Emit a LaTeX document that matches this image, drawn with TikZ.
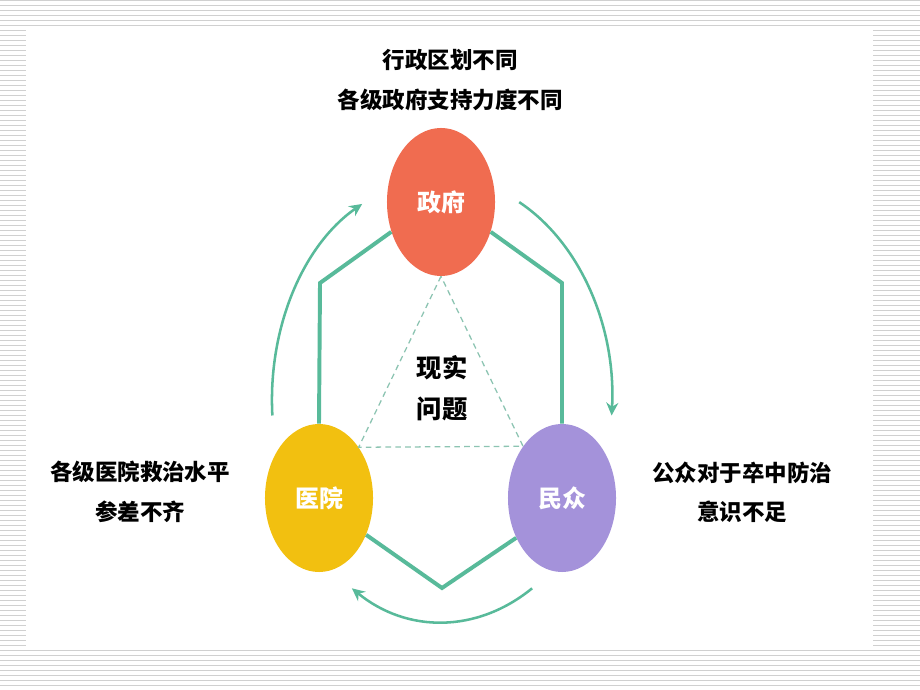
\documentclass[tikz,border=0pt]{standalone}
\usepackage{fontspec}
\setmainfont{Noto Sans CJK SC}
\usetikzlibrary{shapes.geometric,arrows.meta,calc}
\definecolor{tealline}{RGB}{88,186,154}
\definecolor{govred}{RGB}{240,108,80}
\definecolor{hospyellow}{RGB}{242,192,16}
\definecolor{pubpurple}{RGB}{164,146,218}
\definecolor{dashcol}{RGB}{140,196,178}
\definecolor{stripe}{RGB}{208,208,208}

\begin{document}
\begin{tikzpicture}[x=0.025cm, y=0.025cm]
      \tikzstyle{ball} = [ellipse, minimum width=2.7cm, minimum height=3.7cm, inner sep=0pt,
        text=white, font=\bfseries\fontsize{17}{20}\selectfont]
      \tikzstyle{word} = [align=center, text=black, font=\bfseries\fontsize{16}{28}\selectfont]
      \tikzstyle{hexline} = [draw=tealline, line width=2.8pt, line join=miter]
      \tikzstyle{cyclearrow} = [draw=tealline, line width=1.8pt, -{Stealth[length=3.2mm,width=3mm]}]
      \useasboundingbox (0,0) rectangle (920,690);
      % striped slide frame
      \foreach \k in {0,...,138}
        \draw[stripe, line width=0.5pt] (0,\k*5) -- (920,\k*5);
      \fill[white] (26,42) rectangle (873,660);
      % three parties
      \node (gov) [ball, fill=govred] at (441,488) {政府};
      \node (hosp) [ball, fill=hospyellow] at (319,192) {医院};
      \node (pub) [ball, fill=pubpurple] at (562,192) {民众};
      \coordinate (hl) at (320,407);
      \coordinate (hr) at (562,407);
      \coordinate (hb) at (442,102);
      \draw[hexline] (gov.211) -- (hl) -- (hosp.north);
      \draw[hexline] (gov.329) -- (hr) -- (pub.north);
      \draw[hexline] (hosp.322) -- (hb) -- (pub.221);
      % inner triangle
      \draw[dashcol, line width=0.9pt, dash pattern=on 4pt off 3pt]
        (gov.south) -- (hosp.52) -- (pub.127) -- cycle;
      \node (core) [word, font=\bfseries\fontsize{18}{29}\selectfont] at (442,302) {现实\\问题};
      % cycle arrows
      \coordinate (mid) at (442,290);
      \draw[cyclearrow] ($(mid)+(184:4.25cm and 5.55cm)$) arc[start angle=184, end angle=118, x radius=4.25cm, y radius=5.55cm];
      \draw[cyclearrow] ($(mid)+(63:4.25cm and 5.55cm)$) arc[start angle=63, end angle=-4, x radius=4.25cm, y radius=5.55cm];
      \draw[cyclearrow] ($(mid)+(302:4.25cm and 5.55cm)$) arc[start angle=302, end angle=238, x radius=4.25cm, y radius=5.55cm];
      % problems of each party
      \node (govtext) [word] at (450,610) {行政区划不同\\各级政府支持力度不同};
      \node (hosptext) [word] at (140,198) {各级医院救治水平\\参差不齐};
      \node (pubtext) [word] at (742,198) {公众对于卒中防治\\意识不足};
    \end{tikzpicture}
\end{document}
